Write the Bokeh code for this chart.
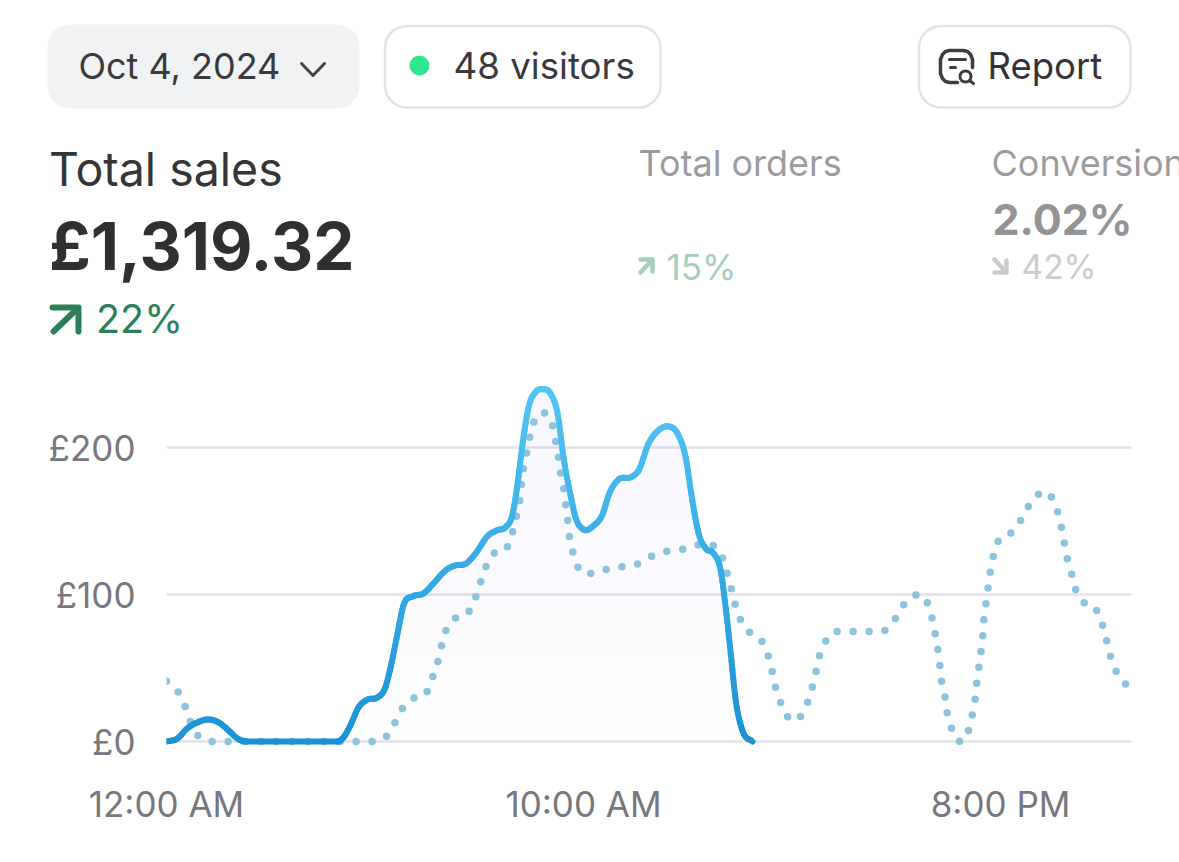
from bokeh.plotting import figure
from bokeh.layouts import column
from bokeh.models import Range1d, BoxAnnotation, FixedTicker
from bokeh.core.properties import value
from bokeh.embed import file_html
from bokeh.resources import INLINE
import numpy as np

# ---------- chart data (hours since midnight, GBP) ----------
today_hours = [0,0.26,0.50,0.74,1.01,1.25,1.49,1.73,1.94,4.10,4.24,4.41,4.60,4.82,5.06,5.25,5.37,5.54,5.68,5.90,
 6.16,6.40,6.69,6.93,7.17,7.41,7.70,7.94,8.13,8.30,8.42,8.54,8.68,8.85,9.02,9.21,9.38,9.52,9.69,9.81,
 10.0,10.24,10.46,10.60,10.84,11.13,11.32,11.56,11.80,12.04,12.25,12.45,12.61,12.76,12.93,13.12,13.29,13.41,13.53,13.65,13.81,14.05]
today_sales = [0,2,9,13,15,13,7.5,1.5,0,0,2.7,11,23,28.6,30,37,50,73.6,92.6,98.8,
 100.8,107.6,116.5,120,121,128,140,144,146,155,176,203,227.5,238,240,237,223,193.5,167.6,152.6,
 144.4,147,155,167.6,178.5,180,184.6,203,212,214.6,210,193.5,164,141.7,131.5,128,116.5,91,60,28,7.5,0]
prev_hours = [0,0.29,0.46,0.58,0.77,0.94,1.10,1.46,4.51,4.89,5.25,5.47,5.64,5.90,6.24,6.38,6.50,6.59,6.69,6.91,
 7.24,7.41,7.53,7.65,7.84,8.18,8.30,8.39,8.47,8.51,8.56,8.63,8.71,8.80,9.04,9.26,9.33,9.40,9.45,9.52,
 9.57,9.62,9.66,9.74,9.86,10.17,10.53,10.89,11.27,11.61,11.97,12.35,12.71,13.09,13.31,13.43,13.53,13.62,13.74,13.93,
 14.24,14.41,14.51,14.58,14.70,14.84,15.16,15.35,15.47,15.56,15.64,15.78,16.02,16.40,16.76,17.15,17.43,17.63,17.89,18.23,
 18.35,18.42,18.49,18.54,18.58,18.66,18.71,18.80,18.97,19.21,19.30,19.38,19.42,19.47,19.52,19.57,19.59,19.64,19.69,19.74,
 19.81,19.90,20.17,20.43,20.60,20.82,21.15,21.34,21.44,21.51,21.58,21.68,21.77,21.92,22.25,22.42,22.52,22.61,22.73,22.93,23.0]
prev_sales = [41,33.4,23,13,3.4,0.7,0,0,0,0,2.7,12.3,21.8,29.3,33.4,43.6,53.8,64.7,75,83.8,
 87.9,98,108.3,118.5,128,132.8,143,153.3,164,175,186,196,207,217,224,215,205,194,183,173,
 162,151,140,129.4,119,114.4,117,119,120.6,126,129.4,130.8,133.5,134,126.7,115.8,105.6,94.7,84.5,75.6,
 70,60,49.7,39.5,28.6,19,15.7,25,35.4,45.6,56.5,66.8,75,75,75,75,81.7,91.3,98.8,95.4,
 85,75,64,53,42,32,21,11,0.7,5.4,15.7,26.6,37.5,48.4,59.3,69.5,80.4,91.3,102,113,
 124,134,140,148,157,166,169,159,148.5,138,127,117,106,96.7,92,81.7,71.5,60.6,50.4,41.6,39]
y_ticks = [0, 100, 200]
y_tick_labels = ["£0", "£100", "£200"]
x_ticks = [0, 10, 20]
x_tick_labels = ["12:00 AM", "10:00 AM", "8:00 PM"]

FONT = "Inter"

# ---------- header ----------
head = figure(width=1179, height=362, output_backend="svg", toolbar_location=None,
              x_range=Range1d(1, 1180), y_range=Range1d(362, 0),
              x_axis_location=None, y_axis_location=None,
              min_border=0, outline_line_color=None, background_fill_color="white")
head.grid.visible = False
head.frame_align = False

def box(l, r, t, b, fill=None, line=None):
    head.add_layout(BoxAnnotation(left=l, right=r, top=t, bottom=b, border_radius=22,
                                  fill_color=fill or "white", fill_alpha=1,
                                  line_color=line, line_width=2.5, line_alpha=1 if line else 0, level="underlay"))

def txt(x, y, s, size, color, style="normal"):
    head.text([x], [y - 0.37 * size], text=[s], text_font=value(FONT), text_font_size=value(f"{size}px"),
              text_color=color, text_font_style=style, text_baseline="alphabetic", text_align="left")

def stroke(xs, ys, color, w):
    head.line(xs, ys, line_color=color, line_width=w, line_cap="round", line_join="round")

box(48, 360, 24, 108, fill="#F1F2F4")
box(385.5, 661, 25.5, 107, line="#E3E3E3")
box(919.5, 1131, 25.5, 107, line="#E3E3E3")

txt(79, 79, "Oct 4, 2024", 36, "#3A3A3C")
txt(454, 79, "48 visitors", 36.7, "#3A3A3C")
txt(988, 79, "Report", 36.5, "#333335")
txt(49.5, 186, "Total sales", 46.5, "#353537")
txt(49.5, 270, "£1,319.32", 65.5, "#303032", "bold")
txt(96.5, 333, "22%", 39.5, "#2B8059")
txt(639, 176, "Total orders", 36, "#9C9C9E")
txt(992, 176, "Conversion", 36, "#9C9C9E")
txt(993, 234, "2.02%", 43, "#949496", "bold")
txt(667, 279, "15%", 35, "#A6CEBA")
txt(1022, 279, "42%", 33.5, "#CBCBCD")

# date chevron, status dot
stroke([302, 313.5, 325], [63, 75, 63], "#444446", 3)
head.scatter([420], [65], size=19, color="#2EE68F")

# report icon
ic = "#3C3C3E"
stroke([973, 973, 971, 968, 964, 950, 946, 943, 941, 941, 943, 946, 950, 958],
       [67, 59, 54, 51, 50, 50, 51, 54, 59, 73, 78, 81, 82, 82], ic, 3.5)
stroke([950, 966], [59, 59], ic, 3)
stroke([951, 956], [67, 67], ic, 3)
head.scatter([966], [76], size=11, fill_color="white", line_color=ic, line_width=3)
stroke([970, 974], [80, 83], ic, 3)

# trend arrows
g = "#2B8059"
stroke([53, 79, 79], [307, 307, 331], g, 6)
stroke([54, 78], [331, 308], g, 6)
lg = "#A6CEBA"
stroke([641, 653, 653], [259, 259, 271], lg, 4.5)
stroke([641, 652], [272, 260], lg, 4.5)
gy = "#CBCBCD"
stroke([1007, 1007, 995], [260, 272, 272], gy, 4.5)
stroke([995, 1006], [259, 271], gy, 4.5)

# ---------- chart ----------
p = figure(width=1179, height=498, output_backend="svg", toolbar_location=None,
           x_range=Range1d(0, 23.14), y_range=Range1d(-3.4, 252.7),
           min_border_left=166, min_border_right=48, min_border_top=8, min_border_bottom=114,
           outline_line_color=None, background_fill_color="white")
p.frame_align = False
p.xgrid.visible = False
p.ygrid.ticker = FixedTicker(ticks=y_ticks)
p.ygrid.grid_line_color = "#E3E3E7"
p.ygrid.grid_line_width = 2.5

for ax, ticks, labels in ((p.xaxis[0], x_ticks, x_tick_labels), (p.yaxis[0], y_ticks, y_tick_labels)):
    ax.ticker = FixedTicker(ticks=ticks)
    ax.major_label_overrides = dict(zip(ticks, labels))
    ax.axis_line_color = None
    ax.major_tick_line_color = None
    ax.minor_tick_line_color = None
    ax.major_label_text_font = FONT
    ax.major_label_text_font_size = "35px"
    ax.major_label_text_color = "#77777D"
p.xaxis[0].major_label_standoff = 30
p.yaxis[0].major_label_standoff = 25

def curve(xs, ys, steps=6):
    """Curved path through the read points, the way the original line is drawn."""
    x, y = np.asarray(xs, float), np.asarray(ys, float)
    h = np.diff(x)
    d = np.diff(y) / h
    m = np.empty_like(y)
    m[0], m[-1] = d[0], d[-1]
    m[1:-1] = (d[:-1] * h[1:] + d[1:] * h[:-1]) / (h[:-1] + h[1:])
    m[1:-1][d[:-1] * d[1:] == 0] = 0
    out_x, out_y = [x[:1]], [y[:1]]
    for i in range(len(h)):
        t = np.linspace(0, 1, steps + 1)[1:]
        a = 2*t**3 - 3*t**2 + 1; b = t**3 - 2*t**2 + t; c = -2*t**3 + 3*t**2; e = t**3 - t**2
        out_x.append(x[i] + t * h[i])
        out_y.append(a*y[i] + b*h[i]*m[i] + c*y[i+1] + e*h[i]*m[i+1])
    return np.concatenate(out_x), np.maximum(np.concatenate(out_y), 0)

tx, ty = curve(today_hours, today_sales)
dx, dy = curve(prev_hours, prev_sales, steps=4)

# soft gradient fill under today's line
for lev in range(0, 240, 30):
    p.varea(tx, np.full_like(ty, lev), np.maximum(ty, lev), fill_color="#B6CAEA", fill_alpha=0.021)

# previous period: dotted
p.line(dx, dy, line_color="#8EC3DD", line_width=7.5, line_dash=[0, 16], line_cap="round")

# today: solid with vertical colour gradient
def lerp(v):
    a, b = np.array([0x1C, 0x93, 0xD4]), np.array([0x52, 0xC5, 0xF4])
    c = a + (b - a) * min(v / 240, 1)
    return "#%02x%02x%02x" % tuple(int(round(i)) for i in c)

p.segment(tx[:-1], ty[:-1], tx[1:], ty[1:], line_width=6, line_cap="round",
          line_color=[lerp((u + v) / 2) for u, v in zip(ty[:-1], ty[1:])])

open("out.html", "w").write(file_html(column(head, p, spacing=0), INLINE))
